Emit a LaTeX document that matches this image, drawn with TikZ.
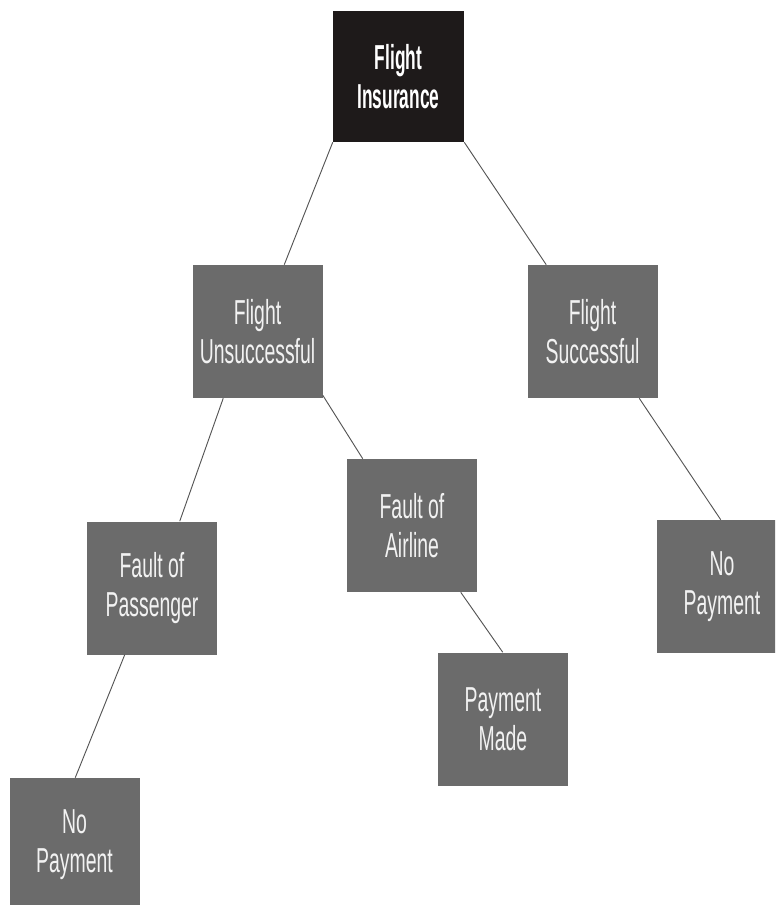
\documentclass[tikz,border=0pt]{standalone}
\usepackage{fontspec}
\newfontfamily\condfont[FakeStretch=0.56]{Liberation Sans}
\newfontfamily\condbold[FakeStretch=0.5]{Liberation Sans Bold}
\usetikzlibrary{calc}
\definecolor{boxgray}{HTML}{6B6B6B}
\definecolor{boxblack}{HTML}{1E1A1A}
\definecolor{linegray}{HTML}{555555}
\definecolor{boxtext}{HTML}{F2F2F2}
\tikzset{
  box/.style={fill=boxgray, draw=none, text=boxtext, inner sep=0pt, align=center,
    minimum width=97.5pt, minimum height=99.75pt,
    font=\condfont\fontsize{26}{29}\selectfont},
  rootbox/.style={box, fill=boxblack, text=white, minimum width=98.25pt, minimum height=98.25pt,
    font=\condbold\fontsize{26}{29}\selectfont},
  link/.style={draw=linegray, line width=0.7pt}
}
\begin{document}
\begin{tikzpicture}[x=0.75pt,y=-0.75pt]
\useasboundingbox (0,0) rectangle (775,905);
\clip (0,0) rectangle (775,905);
\node[rootbox] (root) at (398.5,76.5) {Flight\\Insurance};
\node[box] (fu) at (257.5,331.5) {Flight\\Unsuccessful};
\node[box] (fs) at (592.5,331.5) {Flight\\Successful};
\node[box] (fa) at (412,525.5) {Fault of\\Airline};
\node[box] (fp) at (152,588) {Fault of\\Passenger};
\node[box] (npr) at (722,586.5) {No\\Payment};
\node[box] (pm) at (503,719) {Payment\\Made};
\node[box] (npb) at (74.5,844.5) {No\\Payment};
\draw[link] (root.south west) -- ($(fu.north west)+(92,0)$);
\draw[link] (root.south east) -- ($(fs.north west)+(19,0)$);
\draw[link] ($(fu.south west)+(31,0)$) -- ($(fp.north west)+(93,0)$);
\draw[link] ($(fu.south east)+(0,-3)$) -- ($(fa.north west)+(16,0)$);
\draw[link] ($(fa.south west)+(114,0)$) -- ($(pm.north west)+(65,0)$);
\draw[link] ($(fp.south west)+(38,0)$) -- ($(npb.north west)+(66,0)$);
\draw[link] ($(fs.south west)+(112,0)$) -- ($(npr.north west)+(64,0)$);
\end{tikzpicture}
\end{document}
